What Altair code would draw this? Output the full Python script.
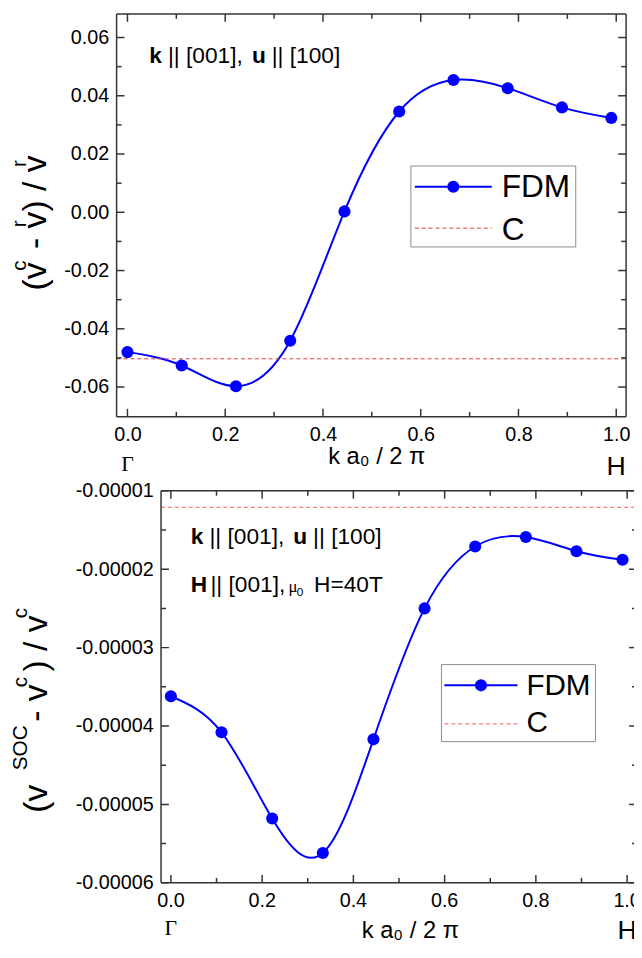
import altair as alt
import pandas as pd

# ---------------- data ----------------
k_vals = [0.0, 0.111, 0.222, 0.333, 0.444, 0.556, 0.667, 0.778, 0.889, 0.99]
top_fdm = [-0.0480, -0.0526, -0.0597, -0.0441, 0.0003, 0.0346, 0.0454, 0.0426, 0.0360, 0.0324]
top_c = -0.0503
bot_fdm = [-3.62e-5, -4.08e-5, -5.18e-5, -5.62e-5, -4.17e-5, -2.50e-5, -1.71e-5, -1.59e-5, -1.77e-5, -1.88e-5]
bot_c = -1.21e-5

x_major = [0.0, 0.2, 0.4, 0.6, 0.8, 1.0]
x_major_labels = ["0.0", "0.2", "0.4", "0.6", "0.8", "1.0"]
x_minor = [0.1, 0.3, 0.5, 0.7, 0.9]
top_y_major = [-0.06, -0.04, -0.02, 0.0, 0.02, 0.04, 0.06]
top_y_minor = [-0.05, -0.03, -0.01, 0.01, 0.03, 0.05]
bot_y_major = [-6e-5, -5e-5, -4e-5, -3e-5, -2e-5, -1e-5]
bot_y_minor = [-5.5e-5, -4.5e-5, -3.5e-5, -2.5e-5, -1.5e-5]
point_labels = ["Γ", "H"]
point_pos = [0.0, 1.0]

SANS = "Liberation Sans"
SERIF = "Liberation Serif"
FRAME = "#333333"
BLUE = "#0000ff"
MINUS = "\u2212"
ONE = pd.DataFrame({"a": [0]})

TOTAL_W, TOTAL_H = 524, 938   # plot area of the whole figure (origin at page 118, 8)


def txt(text, x, y, size, angle=0, bold=False, font=SANS, align="left", clip=False):
    return alt.Chart(ONE).mark_text(
        text=text, fontSize=size, angle=angle, font=font,
        fontWeight="bold" if bold else "normal", align=align,
        baseline="alphabetic", color="black", clip=clip,
    ).encode(x=alt.value(x), y=alt.value(y))


def hrule(x1, x2, y, color=FRAME, width=1.5, dash=None, clip=False):
    kw = dict(color=color, strokeWidth=width, clip=clip)
    if dash:
        kw["strokeDash"] = dash
    return alt.Chart(ONE).mark_rule(**kw).encode(
        x=alt.value(x1), x2=alt.value(x2), y=alt.value(y))


def vrule(x, y1, y2, color=FRAME, width=1.5, clip=False):
    return alt.Chart(ONE).mark_rule(color=color, strokeWidth=width, clip=clip).encode(
        x=alt.value(x), y=alt.value(y1), y2=alt.value(y2))


def panel(fdm, cval, cColor, xdom, x0, x1, y0, y1, ydom, ymaj, ymin, yfmt,
          titleX, titleY, gam_y, h_y, title_frags, annot, legend, clip, draw_right):
    """x0..x1, y0..y1: frame of the panel in figure pixels."""
    xs = alt.Scale(domain=xdom, range=[x0, x1], nice=False, zero=False)
    ys = alt.Scale(domain=ydom, range=[y1, y0], nice=False, zero=False)
    df = pd.DataFrame({"k": k_vals, "v": fdm})

    xaxis = alt.Axis(orient="bottom", offset=-(TOTAL_H - y1),
                     values=x_major, format=".1f", ticks=False, domain=False, grid=False,
                     labels=not clip,
                     labelFontSize=20, labelFont=SANS, labelColor="black", labelPadding=8,
                     title="k a₀ / 2 π", titleFontSize=24, titleFont=SANS,
                     titleFontWeight="normal", titleColor="black", titleX=titleX, titleY=titleY,
                     titleBaseline="alphabetic", titleAlign="center", titleAnchor="start")
    yaxis = alt.Axis(orient="left", offset=-x0,
                     values=ymaj, format=yfmt, ticks=False, domain=False, grid=False,
                     labelFontSize=20, labelFont=SANS, labelColor="black", labelPadding=8,
                     labelExpr=f"replace(datum.label, '{MINUS}', '-')", title=None)

    def X(f):
        return alt.X(f, scale=xs, axis=xaxis)

    def Y(f):
        return alt.Y(f, scale=ys, axis=yaxis)

    layers = []
    layers.append(alt.Chart(df).mark_line(interpolate="natural", color=BLUE, strokeWidth=2,
                                          clip=clip).encode(x=X("k:Q"), y=Y("v:Q")))
    layers.append(alt.Chart(pd.DataFrame({"c": [cval]})).mark_rule(
        color=cColor, strokeWidth=1, strokeDash=[4, 3], clip=clip).encode(
        y=Y("c:Q"), x=alt.value(x0), x2=alt.value(x1)))
    layers.append(alt.Chart(df).mark_circle(size=150, color=BLUE, opacity=1, clip=clip).encode(
        x=X("k:Q"), y=Y("v:Q")))
    # frame
    layers += [hrule(x0, x1, y0, clip=clip), hrule(x0, x1, y1, clip=clip), vrule(x0, y0, y1)]
    if draw_right:
        layers.append(vrule(x1, y0, y1))
    # inward ticks
    for vals, a, b in [(x_major, y1, y1 - 8), (x_minor, y1, y1 - 5),
                       (x_major, y0, y0 + 8), (x_minor, y0, y0 + 5)]:
        layers.append(alt.Chart(pd.DataFrame({"k": vals})).mark_rule(
            color=FRAME, strokeWidth=1.5, clip=clip).encode(
            x=X("k:Q"), y=alt.value(a), y2=alt.value(b)))
    for vals, a, b in [(ymaj, x0, x0 + 8), (ymin, x0, x0 + 5),
                       (ymaj, x1 - 8, x1), (ymin, x1 - 5, x1)]:
        layers.append(alt.Chart(pd.DataFrame({"v": vals})).mark_rule(
            color=FRAME, strokeWidth=1.5, clip=clip).encode(
            y=Y("v:Q"), x=alt.value(a), x2=alt.value(b)))
    # x tick labels drawn as (clipped) text when the panel runs past the page edge
    if clip:
        layers.append(alt.Chart(pd.DataFrame({"k": x_major, "lab": x_major_labels})).mark_text(
            fontSize=20, font=SANS, align="center", baseline="top", color="black", clip=True).encode(
            x=X("k:Q"), y=alt.value(y1 + 8), text="lab:N"))
    # Γ / H labels
    pl = pd.DataFrame({"k": point_pos, "lab": point_labels})
    layers.append(alt.Chart(pl.iloc[[0]]).mark_text(
        fontSize=22, font=SERIF, align="center", baseline="alphabetic", color="black", clip=clip).encode(
        x=X("k:Q"), y=alt.value(gam_y), text="lab:N"))
    layers.append(alt.Chart(pl.iloc[[1]]).mark_text(
        fontSize=27, font=SANS, align="center", baseline="alphabetic", color="black", clip=clip).encode(
        x=X("k:Q"), y=alt.value(h_y), text="lab:N"))
    # rotated y title
    for (t, x, y, s) in title_frags:
        layers.append(txt(t, x, y, s, angle=270))
    # annotation
    for (t, x, y, s, b, f) in annot:
        layers.append(txt(t, x, y, s, bold=b, font=f))
    # legend
    (bx1, bx2, by1, by2, lx1, lx2, ly1, ly2, tx, ty1, ty2, fs) = legend
    layers.append(alt.Chart(ONE).mark_rect(fill="white", stroke="#8c8c8c", strokeWidth=1).encode(
        x=alt.value(bx1), x2=alt.value(bx2), y=alt.value(by1), y2=alt.value(by2)))
    layers.append(hrule(lx1, lx2, ly1, color=BLUE, width=2))
    layers.append(alt.Chart(ONE).mark_circle(size=150, color=BLUE, opacity=1).encode(
        x=alt.value((lx1 + lx2) / 2), y=alt.value(ly1)))
    layers.append(hrule(lx1, lx2, ly2, color=cColor, width=1, dash=[4, 3]))
    layers.append(txt("FDM", tx, ty1, fs))
    layers.append(txt("C", tx, ty2, fs))
    return alt.layer(*layers)


# ---- top panel (frame 0..516 x 0..408) ----
top_title = [("(v", -72, 280, 34), ("c", -92, 260, 21), ("- v", -72, 238, 34),
             ("r", -92, 216, 21), (") / v", -72, 200, 34), ("r", -92, 155, 21)]
top_annot = [("k", 33, 50, 23, True, SANS), ("|| [001],", 52, 50, 23, False, SANS),
             ("u", 137, 50, 23, True, SANS), ("|| [100]", 157, 50, 23, False, SANS)]
top = panel(top_fdm, top_c, "#e03a3a", [-0.0222, 1.0202], 0, 516, 0, 408,
            [-0.0702, 0.0681], top_y_major, top_y_minor, ".2f",
            263, 47, 463, 467, top_title, top_annot,
            (298, 465, 154, 236, 302, 380, 175, 217, 390, 185, 229, 32), False, True)

# ---- bottom panel (frame 45..527 x 483..880), cut by the right page edge ----
B = 483
bot_title = [("(v", -71, B + 326, 34), ("SOC", -91, B + 283, 21), ("- v", -71, B + 234, 34),
             ("c", -91, B + 199, 21), (") / v", -71, B + 183, 34), ("c", -91, B + 129, 21)]
bot_annot = [("k", 75, B + 54, 23, True, SANS), ("|| [001],", 94, B + 54, 23, False, SANS),
             ("u", 179, B + 54, 23, True, SANS), ("|| [100]", 199, B + 54, 23, False, SANS),
             ("H", 75, B + 102, 23, True, SANS), ("|| [001],", 95, B + 102, 23, False, SANS),
             ("μ", 174, B + 102, 17, False, SERIF), ("0", 182.5, B + 107, 12, False, SANS),
             ("H=40T", 200, B + 102, 23, False, SANS)]
bottom = panel(bot_fdm, bot_c, "#ff5a5a", [-0.0216, 1.0216], 45, 527, B, 880,
               [-6e-5, -1e-5], bot_y_major, bot_y_minor, ".5f",
               297, 55, 933, 937, bot_title, bot_annot,
               (329, 485, B + 176, B + 254, 332, 406, B + 197, B + 236, 415, B + 207, B + 244, 30),
               True, False)

chart = alt.layer(top, bottom).resolve_scale(
    x="independent", y="independent"
).resolve_axis(
    x="independent", y="independent"
).properties(
    width=TOTAL_W, height=TOTAL_H,
    padding={"left": 110, "top": 0, "right": 0, "bottom": 0},
    autosize=alt.AutoSizeParams(type="none"),
).configure(font=SANS).configure_view(strokeWidth=0, strokeOpacity=0)

chart.save("out.html", embed_options={"renderer": "svg", "actions": False})
